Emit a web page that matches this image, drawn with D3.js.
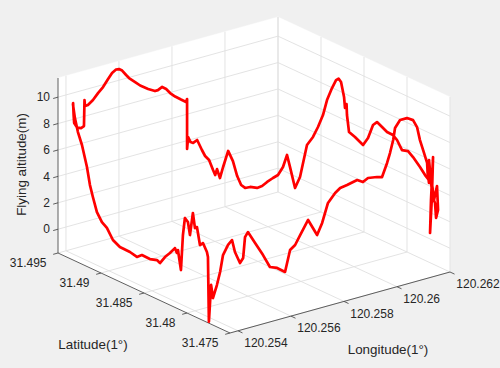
<!DOCTYPE html>
<html><head><meta charset="utf-8">
<script src="https://cdn.jsdelivr.net/npm/d3@7"></script>
<style>html,body{margin:0;padding:0;background:#f0f0f0;}svg{display:block;}</style>
</head><body>
<svg id="c" width="500" height="368"></svg>
<script>
// ---- data (flight track, path order) ----
const lat = [
31.4946,31.4946,31.4946,31.4946,31.4946,31.4946,31.4946,31.4946,31.4946,31.4946,
31.4946,31.4946,31.4946,31.4946,31.4946,31.4946,31.4946,31.4946,31.4946,31.4946,
31.4946,31.4946,31.4946,31.4946,31.4946,31.4946,31.4946,31.4946,31.4946,31.4946,
31.4946,31.4946,31.4946,31.4946,31.4946,31.4946,31.4946,31.4946,31.4946,31.4946,
31.4946,31.4946,31.4946,31.4946,31.4946,31.4946,31.4946,31.4946,31.4946,31.4946,
31.4946,31.4946,31.4946,31.4946,31.4946,
31.49442,31.49395,31.49360,31.49302,31.49244,31.49163,31.49093,31.49035,31.48977,31.48930,
31.48872,31.48825,31.48796,31.48767,31.48732,31.48721,31.48703,31.48698,31.48674,31.48605,
31.48511,31.48453,31.48395,31.48349,31.48290,31.48232,31.48163,31.48116,31.48058,31.47988,
31.47930,31.47849,31.47790,31.47744,31.47709,
31.47686,31.47651,31.47639,31.47662,31.47674,31.47709,31.47732,31.47721,31.47697,31.47709,
31.47744,31.47744,
31.4776,31.4776,31.4776,31.4776,31.4776,31.4776,31.4776,31.4776,31.4776,31.4776,
31.4776,31.4776,31.4776,31.4776,31.4776,31.4776,31.4776,31.4776,31.4776,31.4776,
31.4776,31.4776,31.4776,31.4776,31.4776,31.4776,31.4776,31.4776,31.4776,31.4776,
31.4776,31.4776,31.4776,31.4776,31.4776,31.4776,31.4776,31.4776,31.4776,31.4776,
31.4776,31.4776,31.4776,31.4776,
31.4777,
31.47781,31.47793,31.47839,31.47874,31.47909,31.47932,31.47956,31.47990,31.48014,31.48049,
31.48072,31.48095,31.48130,31.48142,31.48165,31.48223,31.48281,31.48339,31.48374,31.48456,
31.48549,31.48607,31.48688,31.48805,31.48886,31.48956,31.49014,31.49072,31.49119,31.49153,
31.49188,31.49246,31.49293,31.49328,31.49351
];
const lon = [
120.25414,120.25416,120.25418,120.25429,120.25444,120.25455,120.25457,120.25459,120.25470,120.25489,
120.25508,120.25527,120.25546,120.25561,120.25576,120.25587,120.25599,120.25614,120.25625,120.25648,
120.25667,120.25697,120.25723,120.25734,120.25750,120.25765,120.25780,120.25799,120.25821,120.25840,
120.25844,120.25844,120.25848,120.25857,120.25867,120.25882,120.25900,120.25912,120.25927,120.25942,
120.25950,120.25957,120.25968,120.25980,120.25999,120.26017,120.26033,120.26048,120.26063,120.26082,
120.26108,120.26127,120.26146,120.26168,120.26187,
120.262,120.262,120.262,120.262,120.262,120.262,120.262,120.262,120.262,120.262,
120.262,120.262,120.262,120.262,120.262,120.262,120.262,120.262,120.262,120.262,
120.262,120.262,120.262,120.262,120.262,120.262,120.262,120.262,120.262,120.262,
120.262,120.262,120.262,120.262,120.262,
120.262,120.262,120.262,120.262,120.262,120.262,120.262,120.262,120.262,120.262,
120.262,120.262,
120.26200,120.26198,120.26183,120.26171,120.26160,120.26145,120.26122,120.26096,120.26077,120.26070,
120.26058,120.26047,120.26028,120.26009,120.25975,120.25956,120.25934,120.25896,120.25870,120.25851,
120.25824,120.25802,120.25783,120.25749,120.25719,120.25700,120.25681,120.25662,120.25632,120.25605,
120.25579,120.25549,120.25522,120.25511,120.25504,120.25492,120.25473,120.25462,120.25447,120.25428,
120.25417,120.25405,120.25390,120.25383,
120.25378,
120.25378,120.25378,120.25378,120.25378,120.25378,120.25378,120.25378,120.25378,120.25378,120.25378,
120.25378,120.25378,120.25378,120.25378,120.25378,120.25378,120.25378,120.25378,120.25378,120.25378,
120.25378,120.25378,120.25378,120.25378,120.25378,120.25378,120.25378,120.25378,120.25378,120.25378,
120.25378,120.25378,120.25378,120.25378,120.25378
];
const alt = [
9.43,8.51,7.90,7.49,7.37,7.46,9.42,8.95,8.97,9.24,
9.66,10.01,10.52,10.89,11.07,11.04,10.86,10.44,10.15,9.72,
9.35,8.92,8.62,8.63,8.78,8.54,8.15,7.78,7.43,7.14,
7.34,3.56,4.44,4.01,3.89,4.03,3.17,2.65,2.26,1.42,
1.00,1.41,0.67,1.44,2.55,1.68,0.46,-0.30,-0.61,-0.64,
-0.86,-0.82,-0.62,-0.44,-0.32,
0.27,1.32,0.51,-0.90,0.11,2.78,3.60,4.53,5.61,6.89,
7.97,8.72,8.92,8.75,7.72,6.92,7.27,6.46,5.24,5.07,
4.75,5.46,6.62,6.98,6.78,6.58,6.56,6.33,5.74,5.88,
5.60,5.09,4.66,4.42,4.23,
3.09,4.25,2.47,1.80,2.89,3.40,0.45,2.98,6.31,3.62,
5.94,4.20,
4.90,5.68,6.74,7.56,8.61,9.22,9.50,9.50,9.00,8.13,
7.21,6.52,5.56,5.67,5.78,5.58,5.86,5.69,5.61,5.34,
4.73,3.34,2.53,3.86,2.89,2.24,1.97,0.41,0.88,1.10,
2.15,3.23,4.21,3.89,2.35,2.03,2.97,3.94,3.65,2.99,
1.77,0.85,-0.05,0.98,
-1.80,
3.06,3.40,3.94,3.68,4.94,4.79,5.86,4.09,5.00,5.20,
3.84,1.12,2.53,2.27,2.57,2.02,1.54,0.91,1.03,0.86,
0.88,0.56,0.69,0.71,1.00,1.70,1.97,2.55,3.55,4.35,
5.61,7.10,7.94,8.89,9.88
];
const latTicks = [31.475, 31.48, 31.485, 31.49, 31.495];
const lonTicks = [120.254, 120.256, 120.258, 120.26, 120.262];
const altTicks = [0, 2, 4, 6, 8, 10];
const latLabels = ["31.475","31.48","31.485","31.49","31.495"];
const lonLabels = ["120.254","120.256","120.258","120.26","120.262"];
const altLabels = ["0","2","4","6","8","10"];
const latDomain = [31.495, 31.475];
const lonDomain = [120.2537, 120.262];
const altDomain = [-1.8, 11.45];

// ---- projection (orthographic, MATLAB-like view) ----
const su = d3.scaleLinear().domain(latDomain).range([0, 1]);
const sv = d3.scaleLinear().domain(lonDomain).range([0, 1]);
const sw = d3.scaleLinear().domain(altDomain).range([0, 1]);
const O = [58, 253], U = [172, 80], V = [220, -61], W = [0, -175];
function P(a, b, c) {
  const u = su(a), v = sv(b), w = sw(c);
  return [O[0] + U[0]*u + V[0]*v + W[0]*w, O[1] + U[1]*u + V[1]*v + W[1]*w];
}
const svg = d3.select("#c");
const font = "'Liberation Sans', Arial, Helvetica, sans-serif";
const la0 = latDomain[0], la1 = latDomain[1], lo0 = lonDomain[0], lo1 = lonDomain[1], z0 = altDomain[0], z1 = altDomain[1];

// walls
const walls = [
  [P(la0,lo0,z0),P(la0,lo1,z0),P(la0,lo1,z1),P(la0,lo0,z1)],
  [P(la0,lo1,z0),P(la1,lo1,z0),P(la1,lo1,z1),P(la0,lo1,z1)],
  [P(la0,lo0,z0),P(la0,lo1,z0),P(la1,lo1,z0),P(la1,lo0,z0)]
];
svg.selectAll("polygon.wall").data(walls).join("polygon").attr("class","wall")
  .attr("points", d => d.map(p => p.join(",")).join(" "))
  .attr("fill", "#ffffff").attr("stroke", "#ffffff").attr("stroke-width", 0.5);

// grid
const grid = [];
lonTicks.forEach(t => { grid.push([P(la0,t,z0),P(la0,t,z1)]); grid.push([P(la0,t,z0),P(la1,t,z0)]); });
latTicks.forEach(t => { grid.push([P(t,lo1,z0),P(t,lo1,z1)]); grid.push([P(t,lo0,z0),P(t,lo1,z0)]); });
altTicks.forEach(t => { grid.push([P(la0,lo0,t),P(la0,lo1,t)]); grid.push([P(la0,lo1,t),P(la1,lo1,t)]); });
svg.selectAll("line.grid").data(grid).join("line").attr("class","grid")
  .attr("x1", d => d[0][0]).attr("y1", d => d[0][1]).attr("x2", d => d[1][0]).attr("y2", d => d[1][1])
  .attr("stroke", "#e0e0e0").attr("stroke-width", 0.9);

// axes lines
const axCol = "#4d4d4d";
const axes = [
  [P(la0,lo0,z0),P(la0,lo0,z1)],
  [P(la0,lo0,z0),P(la1,lo0,z0)],
  [P(la1,lo0,z0),P(la1,lo1,z0)]
];
svg.selectAll("line.ax").data(axes).join("line").attr("class","ax")
  .attr("x1", d => d[0][0]).attr("y1", d => d[0][1]).attr("x2", d => d[1][0]).attr("y2", d => d[1][1])
  .attr("stroke", axCol).attr("stroke-width", 0.9);

const vn = Math.hypot(V[0], V[1]), un = Math.hypot(U[0], U[1]);
const tl = 5;
const dV = [-V[0]/vn*tl, -V[1]/vn*tl], dU = [U[0]/un*tl, U[1]/un*tl];
function tick(p, d) { return [p, [p[0]+d[0], p[1]+d[1]]]; }
const ticks = [];
altTicks.forEach(t => ticks.push(tick(P(la0,lo0,t), dV)));
latTicks.forEach(t => ticks.push(tick(P(t,lo0,z0), dV)));
lonTicks.forEach(t => ticks.push(tick(P(la1,t,z0), dU)));
svg.selectAll("line.tk").data(ticks).join("line").attr("class","tk")
  .attr("x1", d => d[0][0]).attr("y1", d => d[0][1]).attr("x2", d => d[1][0]).attr("y2", d => d[1][1])
  .attr("stroke", axCol).attr("stroke-width", 0.9);

// tick labels
const tfs = 12, tcol = "#262626";
svg.selectAll("text.zl").data(altTicks).join("text").attr("class","zl")
  .attr("x", d => P(la0,lo0,d)[0] - 8).attr("y", d => P(la0,lo0,d)[1] + 1)
  .attr("text-anchor","end").attr("dominant-baseline","middle")
  .attr("font-family", font).attr("font-size", tfs).attr("fill", tcol)
  .text((d,i) => altLabels[i]);
svg.selectAll("text.yl").data(latTicks).join("text").attr("class","yl")
  .attr("x", d => P(d,lo0,z0)[0] - 11.5).attr("y", d => P(d,lo0,z0)[1] + 11)
  .attr("text-anchor","end").attr("dominant-baseline","middle")
  .attr("font-family", font).attr("font-size", tfs).attr("fill", tcol)
  .text((d,i) => latLabels[i]);
svg.selectAll("text.xl").data(lonTicks).join("text").attr("class","xl")
  .attr("x", d => P(la1,d,z0)[0] + 6.3).attr("y", d => P(la1,d,z0)[1] + 13)
  .attr("text-anchor","start").attr("dominant-baseline","middle")
  .attr("font-family", font).attr("font-size", tfs).attr("fill", tcol)
  .text((d,i) => lonLabels[i]);

// axis titles
const lfs = 13.4;
svg.append("text").attr("transform","translate(22.5,164.5) rotate(-90)")
  .attr("text-anchor","middle").attr("dominant-baseline","middle")
  .attr("font-family", font).attr("font-size", lfs).attr("fill", tcol).text("Flying altitude(m)");
svg.append("text").attr("x",93).attr("y",345)
  .attr("text-anchor","middle").attr("dominant-baseline","middle")
  .attr("font-family", font).attr("font-size", lfs).attr("fill", tcol).text("Latitude(1°)");
svg.append("text").attr("x",388).attr("y",350)
  .attr("text-anchor","middle").attr("dominant-baseline","middle")
  .attr("font-family", font).attr("font-size", lfs).attr("fill", tcol).text("Longitude(1°)");

// flight track
const pts = lat.map((d,i) => P(d, lon[i], alt[i]));
svg.append("path").attr("d", d3.line()(pts))
  .attr("fill","none").attr("stroke","#ff0000").attr("stroke-width",2.7)
  .attr("stroke-linejoin","round").attr("stroke-linecap","round");
</script>
</body></html>
